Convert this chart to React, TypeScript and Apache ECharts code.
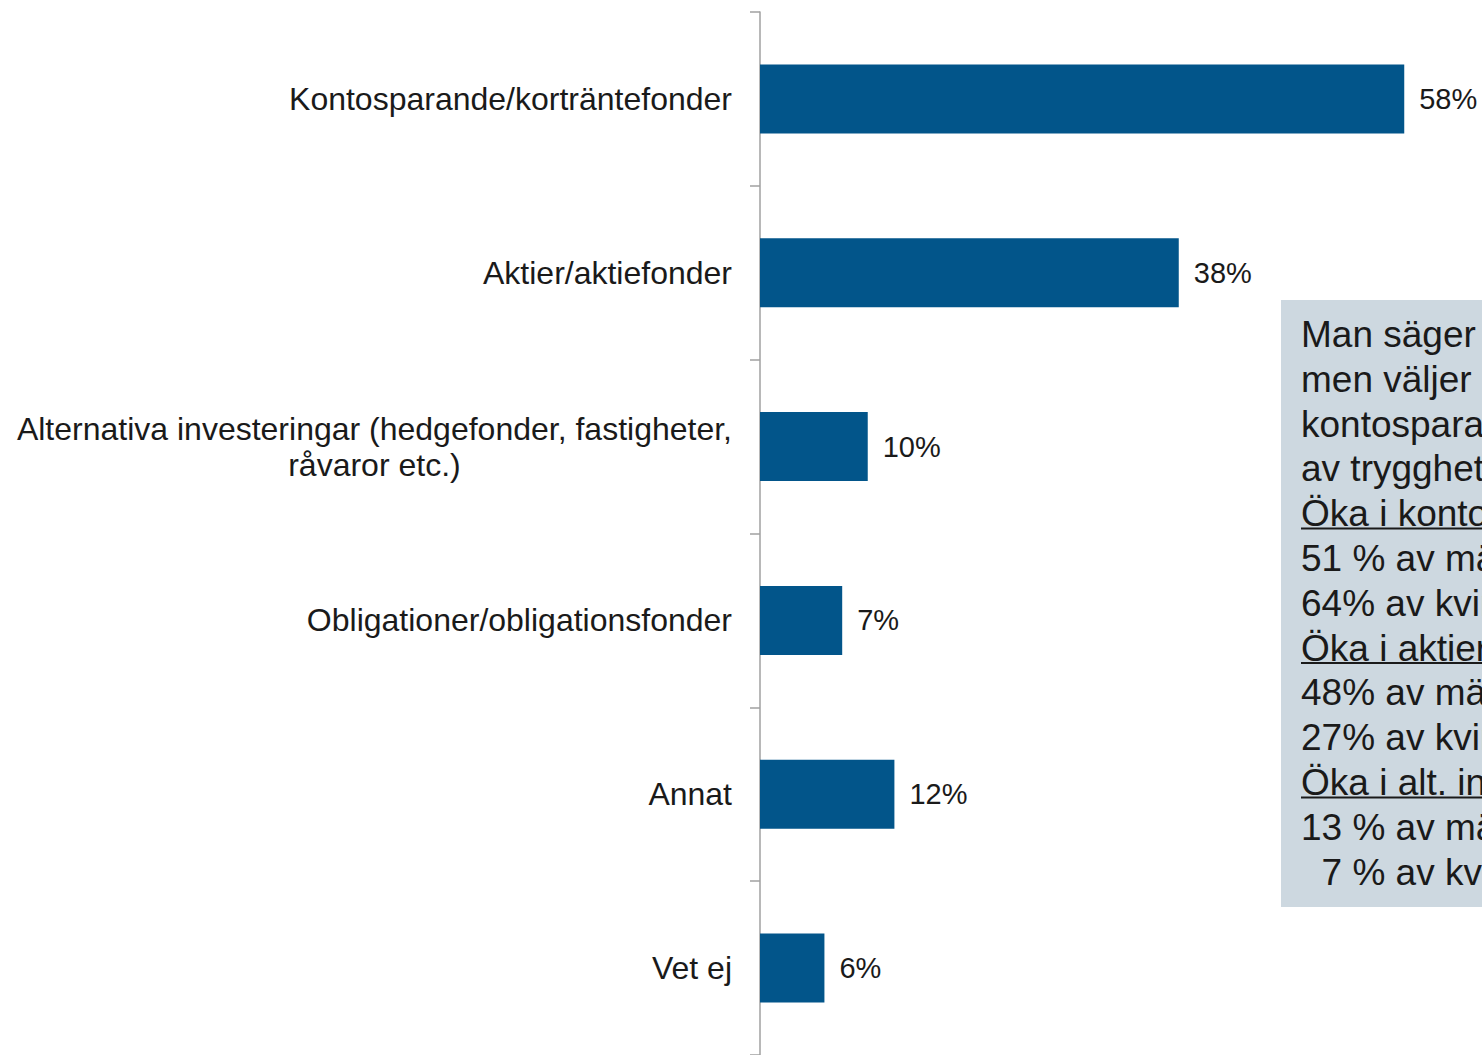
import React, { useEffect, useRef } from "react";
import * as echarts from "echarts";

const categories = [
  "Kontosparande/korträntefonder",
  "Aktier/aktiefonder",
  "Alternativa investeringar (hedgefonder, fastigheter,\nråvaror etc.)",
  "Obligationer/obligationsfonder",
  "Annat",
  "Vet ej",
];
const values = [58, 37.7, 9.7, 7.4, 12.1, 5.8];

const boxLines = [
  "Man säger",
  "men väljer",
  "kontosparande",
  "av trygghet",
  "Öka i kontosparande:",
  "51 % av männen",
  "64% av kvinnorna",
  "Öka i aktier:",
  "48% av männen",
  "27% av kvinnorna",
  "Öka i alt. inv.:",
  "13 % av männen",
  "  7 % av kvinnorna",
];
const underlined = [4, 7, 10];

const FONT = '"Liberation Sans", Arial, sans-serif';

export default function App() {
  const ref = useRef<HTMLDivElement>(null);
  useEffect(() => {
    if (!ref.current) return;
    const chart = echarts.init(ref.current, undefined, { renderer: "svg" });
    const boxTop = 300;
    const lh = 44.8;
    const first = boxTop + 12 + lh / 2;
    const graphic: any[] = [
      {
        type: "rect",
        shape: { x: 1281, y: boxTop, width: 260, height: 607 },
        style: { fill: "#cdd8e0" },
        z: 10,
      },
    ];
    boxLines.forEach((t, i) => {
      graphic.push({
        type: "text",
        x: 1301,
        y: first + i * lh,
        z: 11,
        style: {
          text: t,
          fontSize: 37,
          fontFamily: FONT,
          fill: "#1a1a1a",
          verticalAlign: "middle",
          align: "left",
        },
      });
      if (underlined.includes(i)) {
        const uy = first + i * lh + 15;
        graphic.push({
          type: "line",
          z: 11,
          shape: { x1: 1301, y1: uy, x2: 1540, y2: uy },
          style: { stroke: "#1a1a1a", lineWidth: 2 },
        });
      }
    });
    chart.setOption({
      animation: false,
      grid: { left: 760, top: 12, width: 722, height: 1046 },
      xAxis: {
        type: "value",
        min: 0,
        max: 65,
        show: false,
      },
      yAxis: {
        type: "category",
        inverse: true,
        data: categories,
        axisLine: { show: true, lineStyle: { color: "#a0a0a0", width: 1.5 } },
        axisTick: { show: true, length: 10, lineStyle: { color: "#a0a0a0", width: 1.5 } },
        axisLabel: {
          margin: 28,
          formatter: (v: string) =>
            v
              .split("\n")
              .map((s) => "{c|" + s + "}")
              .join("\n"),
          rich: {
            c: {
              fontSize: 32,
              fontFamily: FONT,
              color: "#1a1a1a",
              align: "center",
              lineHeight: 36,
            },
          },
        },
      },
      series: [
        {
          type: "bar",
          data: values,
          barWidth: 69,
          itemStyle: { color: "#02558a" },
          label: {
            show: true,
            position: "right",
            distance: 15,
            fontSize: 29,
            fontFamily: FONT,
            color: "#1a1a1a",
            formatter: (p: any) => Math.round(p.value) + "%",
          },
        },
      ],
      graphic,
    });
    return () => chart.dispose();
  }, []);
  return (
    <div
      ref={ref}
      style={{ position: "fixed", left: 0, top: 0, width: 1482, height: 1055, background: "#fff" }}
    />
  );
}
